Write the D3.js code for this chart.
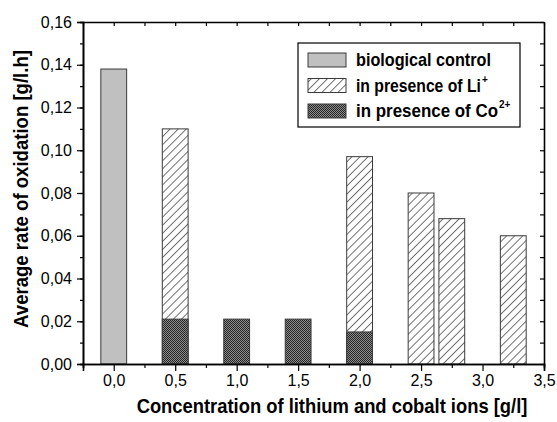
<!DOCTYPE html>
<html>
<head>
<meta charset="utf-8">
<script src="https://cdn.jsdelivr.net/npm/d3@7"></script>
<style>
  body { margin: 0; background: #fff; }
  text { font-family: Arial, "Liberation Sans", sans-serif; }
</style>
</head>
<body>
<svg id="chart" width="557" height="422"></svg>
<script>
// data
const controlX = [0.0];
const controlVals = [0.138];
const liX = [0.5, 2.0, 2.5, 2.75, 3.25];
const liVals = [0.110, 0.097, 0.080, 0.068, 0.060];
const coX = [0.5, 1.0, 1.5, 2.0];
const coVals = [0.021, 0.021, 0.021, 0.015];
const xTicks = [0, 0.5, 1.0, 1.5, 2.0, 2.5, 3.0, 3.5];
const yTicks = [0, 0.02, 0.04, 0.06, 0.08, 0.10, 0.12, 0.14, 0.16];
const legendLabels = ["biological control", "in presence of Li", "in presence of Co"];
const legendSups = ["", "+", "2+"];

const margin = {top: 22, right: 13, bottom: 58, left: 83},
  width = 557 - margin.left - margin.right,
  height = 422 - margin.top - margin.bottom;
const barW = 0.21;
const fmt = d => d3.format(".2f")(d).replace(".", ",");
const fmtX = d => d3.format(".1f")(d).replace(".", ",");

let x = d3.scaleLinear().domain([-0.25, 3.5]).range([0, width]);
let y = d3.scaleLinear().domain([0, 0.16]).range([height, 0]);

let svg = d3.select("#chart");
let defs = svg.append("defs");

let hatch = defs.append("pattern")
  .attr("id", "hatch")
  .attr("patternUnits", "userSpaceOnUse")
  .attr("width", 5.7).attr("height", 5.7)
  .attr("patternTransform", "rotate(45)");
hatch.append("rect").attr("width", 5.7).attr("height", 5.7).attr("fill", "#fff");
hatch.append("line").attr("x1", 0).attr("y1", 0).attr("x2", 0).attr("y2", 5.7)
  .attr("stroke", "#000").attr("stroke-width", 1.1);

let checker = defs.append("pattern")
  .attr("id", "checker")
  .attr("patternUnits", "userSpaceOnUse")
  .attr("width", 2).attr("height", 2);
checker.append("rect").attr("width", 2).attr("height", 2).attr("fill", "#262626");
checker.append("rect").attr("width", 1).attr("height", 1).attr("fill", "#8c8c8c");
checker.append("rect").attr("x", 1).attr("y", 1).attr("width", 1).attr("height", 1).attr("fill", "#8c8c8c");

let g = svg.append("g")
  .attr("transform", "translate(" + margin.left + "," + margin.top + ")");

function bars(xs, vals, fill) {
  g.append("g").selectAll("rect")
    .data(xs.map((d, i) => ({x: d, v: vals[i]})))
    .join("rect")
    .attr("x", d => x(d.x - barW / 2))
    .attr("width", d => x(d.x + barW / 2) - x(d.x - barW / 2))
    .attr("y", d => y(d.v))
    .attr("height", d => y(0) - y(d.v))
    .attr("fill", fill)
    .attr("stroke", "#3a3a3a")
    .attr("stroke-width", 1);
}
bars(controlX, controlVals, "#c0c0c0");
bars(liX, liVals, "url(#hatch)");
bars(coX, coVals, "url(#checker)");

// axes
let xMinor = d3.range(-0.25, 3.51, 0.25);
let yMinor = d3.range(0, 0.1601, 0.01);

g.append("g").attr("transform", "translate(0," + height + ")")
  .call(d3.axisBottom(x).tickValues(xTicks).tickFormat(fmtX).tickSize(7).tickPadding(4));
g.append("g").attr("transform", "translate(0," + height + ")")
  .call(d3.axisBottom(x).tickValues(xMinor.filter(v => !xTicks.some(t => Math.abs(t - v) < 1e-6))).tickFormat("").tickSize(4));
g.append("g")
  .call(d3.axisLeft(y).tickValues(yTicks).tickFormat(fmt).tickSize(6).tickPadding(5));
g.append("g")
  .call(d3.axisLeft(y).tickValues(yMinor).tickFormat("").tickSize(3));
g.append("g")
  .call(d3.axisTop(x).tickValues(xMinor).tickFormat("").tickSizeInner(-4).tickSizeOuter(0));
g.append("g").attr("transform", "translate(" + width + ",0)")
  .call(d3.axisRight(y).tickValues(yMinor).tickFormat("").tickSizeInner(-4).tickSizeOuter(0));

g.selectAll(".domain").attr("stroke", "#000").attr("stroke-width", 1.6);
g.selectAll(".tick line").attr("stroke", "#000").attr("stroke-width", 1.2);
g.selectAll(".tick text").attr("font-size", 16).attr("fill", "#000")
  .style("font-family", "Arial, 'Liberation Sans', sans-serif");

// squeeze a text horizontally to a given width (the original font is narrow)
function squeeze(t, px, py, w, rot) {
  let nat = t.node().getComputedTextLength();
  t.attr("transform", "translate(" + px + "," + py + ")" + (rot ? " rotate(" + rot + ")" : "") +
    " scale(" + (w / nat) + ",1)");
}

// legend
let leg = svg.append("g").attr("transform", "translate(298,43)");
leg.append("rect").attr("width", 222).attr("height", 84)
  .attr("fill", "#fff").attr("stroke", "#000").attr("stroke-width", 1.2);
const legFills = ["#c0c0c0", "url(#hatch)", "url(#checker)"];
const legLen = [135, 125, 142];
legendLabels.forEach((lab, i) => {
  let cy = 17 + i * 25.5;
  leg.append("rect").attr("x", 10).attr("y", cy - 7).attr("width", 38).attr("height", 14)
    .attr("fill", legFills[i]).attr("stroke", "#3a3a3a");
  let t = leg.append("text")
    .attr("font-size", 18).attr("font-weight", "bold")
    .text(lab);
  squeeze(t, 58, cy + 6, legLen[i]);
  if (legendSups[i]) {
    leg.append("text").attr("x", 58 + legLen[i] + 1).attr("y", cy - 3)
      .attr("font-size", 10).attr("font-weight", "bold")
      .text(legendSups[i]);
  }
});

// axis titles
let xt = svg.append("text")
  .attr("text-anchor", "middle")
  .attr("font-size", 21).attr("font-weight", "bold")
  .text("Concentration of lithium and cobalt ions [g/l]");
squeeze(xt, 332, 413, 391);
let yt = svg.append("text")
  .attr("text-anchor", "middle")
  .attr("font-size", 21).attr("font-weight", "bold")
  .text("Average rate of oxidation [g/l.h]");
squeeze(yt, 28, 189, 278, -90);
</script>
</body>
</html>
